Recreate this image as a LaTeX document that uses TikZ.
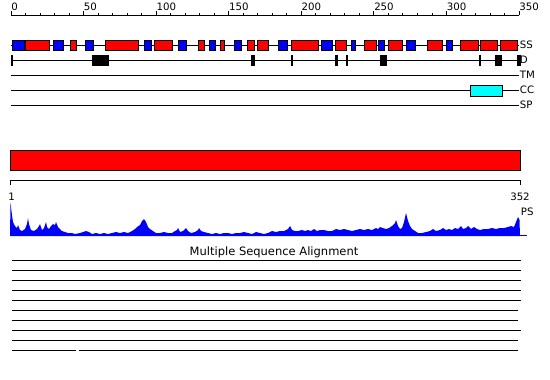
\documentclass[tikz,border=0pt]{standalone}
\usepackage{fontspec}
\setmainfont{DejaVu Sans}
\definecolor{helix}{RGB}{255,0,0}
\definecolor{strand}{RGB}{0,0,255}
\definecolor{coil}{RGB}{0,255,255}
\begin{document}
\begin{tikzpicture}[x=1pt,y=-1pt,line width=.8pt,font=\fontsize{10.2}{12}\selectfont,
	lbl/.style={anchor=west,inner sep=.5pt},
	hbox/.style={draw,fill=helix},
	ebox/.style={draw,fill=strand}]
	\useasboundingbox[fill=white](0,0)rectangle(550,380);
	\draw(11,15)--(519,15);
	\foreach \i in {0,10,...,350}{\draw(11+\i*1.4514,15)--+(0,-2.5);}
	\foreach \i in {0,50,...,350}{
		\draw(11+\i*1.4514,15)--+(0,-4);
		\node(r\i)[anchor=base west,inner sep=0pt]at(11+\i*1.4514,10.5){\i};}
	\draw(11,45)--(519,45)node(ss)[lbl]{SS};
	\foreach \a/\b in {12/24,53/63,85/93,144/151,178/186,209/215,234/241,278/287,321/332,351/355,378/384,406/415,446/452}
		\draw[ebox](\a,40.5)rectangle(\b,50.5);
	\foreach \a/\b in {25/49.5,70/76,105/138,154/172.5,198/204.5,220/224.5,247/254,257/268,291/318.5,335/346.5,364/376,388/402.5,427/442,460/478,480/497,500/517}
		\draw[hbox](\a,40.5)rectangle(\b,50.5);
	\draw(11,60)--(519,60)node(d)[lbl]{D};
	\foreach \a/\b in {10.5/12.5,92/109,251/255,290.5/292.5,335/338,345.5/347.5,380/387,479/481,495/502,517/521}
		\fill(\a,55)rectangle(\b,66);
	\draw(11,75)--(519,75)node(tm)[lbl]{TM};
	\draw(11,90)--(519,90)node(cc)[lbl]{CC};
	\draw[fill=coil](470,85)rectangle(502,96);
	\draw(11,105)--(519,105)node(sp)[lbl]{SP};
	\draw[fill=helix](10,150)rectangle(520,170);
	\draw(10,185)--(10,180.5)--(520,180.5)--(520,185);
	\node(first)[anchor=base,inner sep=0pt]at(11.5,200){1};
	\node(last)[anchor=base,inner sep=0pt]at(520,200){352};
	\node(ps)[anchor=base west,inner sep=0pt]at(520.5,215){PS};
	\fill[strand](10,236)--plot coordinates{(10.5,203) (12,215) (13,222) (15,226) (17,228) (18,225) (20,230) (22,231) (25,229) (27,224) (28,218) (29,224) (31,230) (34,231) (37,229) (39,226) (40,224) (42,230) (44,228) (46,222) (47,227) (49,229) (51,226) (53,224) (55,225) (56,222) (58,227) (60,229) (62,231) (65,232) (68,233) (72,233) (75,234) (80,233) (83,232) (86,231) (89,232) (92,234) (96,233) (100,234) (104,233) (108,234) (112,233) (116,232) (120,233) (124,232) (128,233) (132,231) (135,229) (137,227) (140,225) (142,221) (144,219) (146,222) (148,227) (150,229) (153,231) (156,233) (160,233) (164,232) (168,233) (172,233) (175,231) (177,230) (178,228) (180,232) (183,231) (186,228) (188,231) (191,233) (195,232) (198,230) (199,228) (201,231) (204,232) (208,233) (212,234) (216,233) (220,234) (224,233) (228,233) (232,234) (236,233) (240,233) (244,232) (248,233) (252,234) (256,232) (260,233) (264,234) (268,233) (272,231) (276,232) (280,231) (284,231) (288,229) (290,226) (292,230) (295,231) (298,231) (302,230) (305,231) (308,230) (311,231) (314,229) (317,231) (320,230) (324,230) (328,231) (332,231) (336,229) (340,230) (344,229) (348,230) (352,231) (356,230) (360,229) (364,230) (368,229) (372,230) (376,228) (378,229) (380,227) (383,228) (386,229) (389,228) (392,226) (395,223) (396,220) (398,226) (400,229) (402,228) (404,222) (406,213) (408,221) (410,226) (412,229) (415,231) (418,233) (422,233) (426,232) (430,231) (433,229) (436,231) (440,230) (443,228) (446,230) (449,229) (452,230) (455,228) (458,229) (461,226) (463,229) (466,228) (468,226) (471,229) (474,227) (477,229) (480,230) (484,229) (488,229) (492,228) (496,229) (500,228) (504,228) (508,227) (511,226) (514,227) (516,222) (518,217) (519.5,220)}--(520,236)--cycle;
	\draw[strand](10,235.5)--(527,235.5);
	\node(msa)[anchor=base,inner sep=0pt,font=\fontsize{11.5}{13}\selectfont]at(274,255){Multiple Sequence Alignment};
	\foreach \y/\e in {260/521,270/521,280/521,290/521,300/521,310/518,320/518,330/521,340/518}
		\draw(12,\y)--(\e,\y);
	\draw(12,350)--(76,350);
	\draw(79,350)--(518,350);
\end{tikzpicture}
\end{document}
